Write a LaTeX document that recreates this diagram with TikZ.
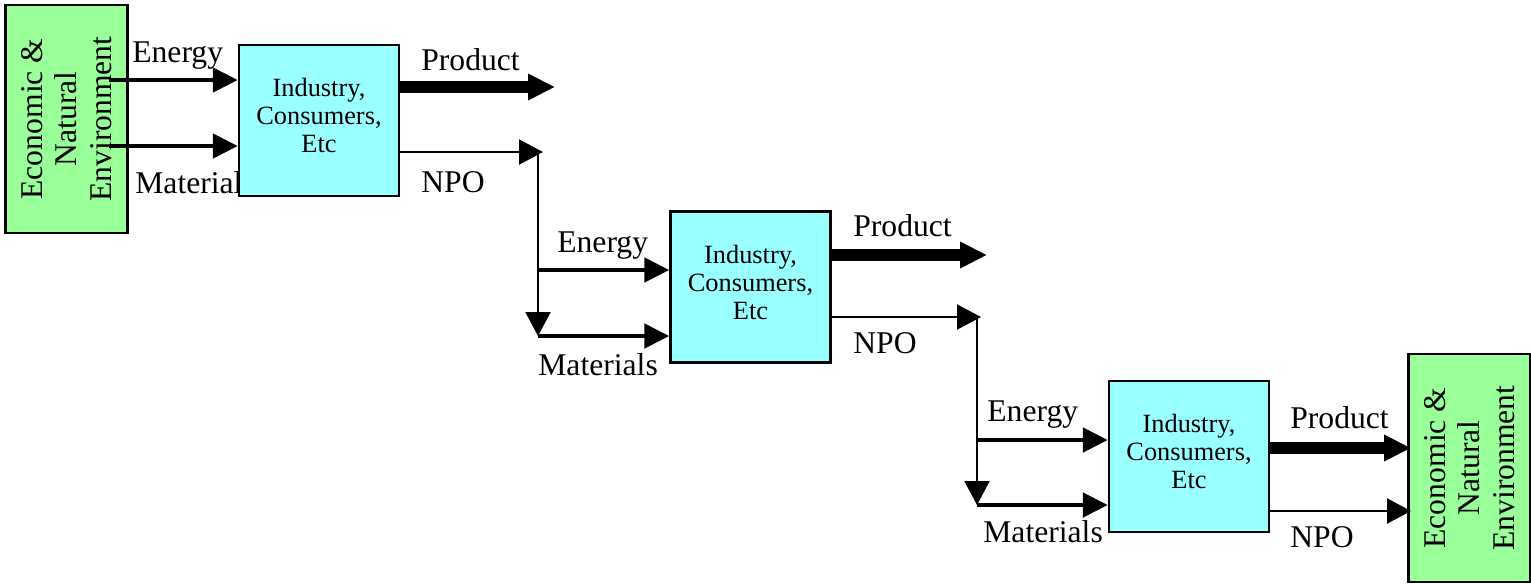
\documentclass[tikz,border=0pt]{standalone}
\usepackage{fontspec}
\setmainfont{Liberation Serif}
\usetikzlibrary{arrows.meta}
\definecolor{envgreen}{HTML}{99FF99}
\definecolor{unitcyan}{HTML}{99FFFF}
\tikzset{
  env/.style={draw=black, line width=1.4pt, fill=envgreen, rotate=90, minimum width=4.56cm, minimum height=2.44cm, align=center, inner sep=0pt, font=\fontsize{18}{19.5}\selectfont},
  unit/.style={draw=black, line width=1.4pt, fill=unitcyan, minimum width=3.2cm, minimum height=3.02cm, align=center, inner sep=0pt, text depth=0.2cm, font=\fontsize{15}{16}\selectfont},
  lbl/.style={anchor=base west, inner sep=0pt, font=\fontsize{18}{20}\selectfont},
  feed/.style={line width=2.8pt, -{Triangle[length=0.5cm,width=0.48cm]}},
  prod/.style={line width=6.8pt, -{Triangle[length=0.54cm,width=0.5cm]}},
  npo/.style={line width=1.2pt, -{Triangle[length=0.48cm,width=0.5cm]}}
}

\begin{document}
\begin{tikzpicture}[x=0.02cm, y=-0.02cm]
\useasboundingbox (0,0) rectangle (1531,583);

% environment boxes
\node[env] (env1) at (66.5,119) {Economic \&\\Natural\\Environment};
\node[env] (env2) at (1469.5,468) {Economic \&\\Natural\\Environment};

% first stage
\node[lbl] (ma1) at (135,193) {Materials};
\node[unit] (box1) at (319,120.5) {Industry,\\Consumers,\\Etc};
\node[lbl] (en1) at (132,62) {Energy};
\node[lbl] (pr1) at (421,70) {Product};
\node[lbl] (np1) at (421,192) {NPO};
\coordinate (e1) at (109,80);
\coordinate (m1) at (109,146);
\coordinate (p1) at (555,87);
\coordinate (n1) at (543,152);
\coordinate (v1) at (538,152);
\coordinate (t1) at (538,270);
\coordinate (b1) at (538,336);
\draw[feed] (e1) -- (box1.west |- e1);
\draw[feed] (m1) -- (box1.west |- m1);
\draw[prod] (box1.east |- p1) -- (p1);
\draw[npo] (box1.east |- n1) -- (n1);
\draw[npo] (v1) -- (b1);

% second stage
\node[unit] (box2) at (750.5,287) {Industry,\\Consumers,\\Etc};
\node[lbl] (en2) at (557,252) {Energy};
\node[lbl] (ma2) at (538,375) {Materials};
\node[lbl] (pr2) at (853,236) {Product};
\node[lbl] (np2) at (853,353) {NPO};
\coordinate (p2) at (987,255);
\coordinate (n2) at (981,317);
\coordinate (v2) at (977,317);
\coordinate (t2) at (977,440);
\coordinate (b2) at (977,505);
\draw[feed] (t1) -- (box2.west |- t1);
\draw[feed] (b1) -- (box2.west |- b1);
\draw[prod] (box2.east |- p2) -- (p2);
\draw[npo] (box2.east |- n2) -- (n2);
\draw[npo] (v2) -- (b2);

% third stage
\node[unit] (box3) at (1189,456.5) {Industry,\\Consumers,\\Etc};
\node[lbl] (en3) at (987,421) {Energy};
\node[lbl] (ma3) at (983,542) {Materials};
\node[lbl] (pr3) at (1290,428) {Product};
\node[lbl] (np3) at (1290,547) {NPO};
\coordinate (p3) at (1411,448);
\coordinate (n3) at (1411,511);
\draw[feed] (t2) -- (box3.west |- t2);
\draw[feed] (b2) -- (box3.west |- b2);
\draw[prod] (box3.east |- p3) -- (p3);
\draw[npo] (box3.east |- n3) -- (n3);
\end{tikzpicture}
\end{document}
